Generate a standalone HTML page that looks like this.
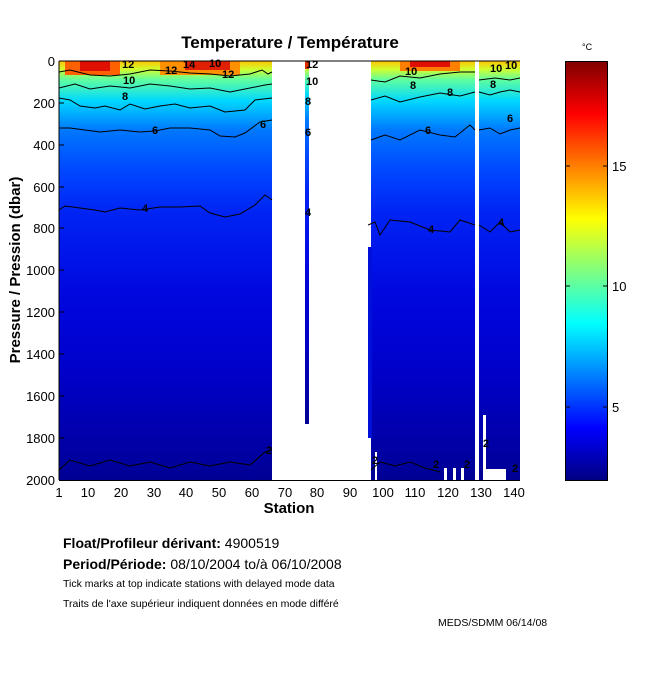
<!DOCTYPE html>
<html><head><style>
body{margin:0;background:#fff;width:650px;height:680px;overflow:hidden}
svg text{font-family:"Liberation Sans",sans-serif}
</style></head><body>
<svg width="650" height="680" viewBox="0 0 650 680">
<defs>
<linearGradient id="prof" x1="0" y1="0" x2="0" y2="1">
<stop offset="0" stop-color="#ffc000"/>
<stop offset="0.02" stop-color="#d0ff30"/>
<stop offset="0.045" stop-color="#60ffa0"/>
<stop offset="0.095" stop-color="#00d8ff"/>
<stop offset="0.165" stop-color="#0078ff"/>
<stop offset="0.26" stop-color="#0048ff"/>
<stop offset="0.36" stop-color="#0024f4"/>
<stop offset="0.55" stop-color="#0008e0"/>
<stop offset="0.75" stop-color="#0000c8"/>
<stop offset="0.93" stop-color="#0000a4"/>
<stop offset="1" stop-color="#000094"/>
</linearGradient>
<linearGradient id="jet" x1="0" y1="1" x2="0" y2="0">
<stop offset="0" stop-color="#000080"/>
<stop offset="0.125" stop-color="#0000ff"/>
<stop offset="0.375" stop-color="#00ffff"/>
<stop offset="0.625" stop-color="#ffff00"/>
<stop offset="0.875" stop-color="#ff0000"/>
<stop offset="1" stop-color="#800000"/>
</linearGradient>
</defs>
<text x="290" y="48" font-size="17" font-weight="bold" text-anchor="middle">Temperature / Température</text>
<rect x="59" y="61" width="213" height="419" fill="url(#prof)"/>
<rect x="305" y="61" width="4" height="363" fill="url(#prof)"/>
<rect x="371" y="61" width="104" height="419" fill="url(#prof)"/>
<rect x="368" y="247" width="4" height="191" fill="#0010d8"/>
<rect x="479" y="61" width="41" height="419" fill="url(#prof)"/>
<rect x="65" y="61" width="55" height="14" fill="#ff6000"/>
<rect x="80" y="61" width="30" height="10" fill="#e01000"/>
<rect x="160" y="61" width="80" height="14" fill="#ff9000"/>
<rect x="185" y="61" width="45" height="9" fill="#e02000"/>
<rect x="400" y="61" width="60" height="10" fill="#ff8000"/>
<rect x="410" y="61" width="40" height="6" fill="#e01000"/>
<rect x="305" y="61" width="4" height="8" fill="#e03000"/>
<rect x="475" y="61" width="4" height="419" fill="#fff"/>
<rect x="483" y="415" width="3" height="65" fill="#fff"/>
<rect x="483" y="469" width="23" height="11" fill="#fff"/>
<rect x="444" y="468" width="3" height="12" fill="#fff"/>
<rect x="453" y="468" width="3" height="12" fill="#fff"/>
<rect x="461" y="468" width="3" height="12" fill="#fff"/>
<rect x="375" y="452" width="2" height="28" fill="#fff"/>
<g fill="none" stroke="#000" stroke-width="1">
<polyline points="59,72 70,70 90,75 110,76 130,74 150,70 170,71 190,73 210,74 230,76 250,74 262,70 268,74 272,72"/>
<polyline points="59,88 75,84 90,89 110,86 130,88 150,84 170,86 190,89 210,88 230,92 250,88 265,85 272,84"/>
<polyline points="59,98 70,100 80,106 95,108 105,106 120,110 130,104 145,109 160,106 175,104 190,108 210,106 225,112 245,110 255,100 272,98"/>
<polyline points="59,128 70,128 85,130 100,132 120,130 140,132 155,131 170,128 190,128 210,130 220,136 235,137 245,133 260,122 272,120"/>
<polyline points="59,210 65,206 80,208 95,210 105,212 120,208 140,210 160,207 180,207 200,206 210,213 225,217 240,214 255,205 265,195 272,200"/>
<polyline points="59,470 70,460 90,466 110,460 130,466 150,462 170,468 190,462 210,466 230,462 250,465 265,452 272,450"/>
<polyline points="371,80 385,82 400,76 420,78 440,74 460,72 475,72"/>
<polyline points="371,100 385,96 400,102 420,97 440,93 460,96 475,92"/>
<polyline points="371,140 385,135 400,140 420,130 440,135 455,137 470,125 475,130"/>
<polyline points="368,225 375,222 380,235 390,220 410,222 430,230 450,232 460,220 475,225"/>
<polyline points="371,470 380,462 395,466 410,462 425,468 440,472"/>
<polyline points="479,80 495,78 510,80 520,78"/>
<polyline points="479,92 490,95 500,92 510,90 520,92"/>
<polyline points="479,130 490,128 500,134 510,130 520,128"/>
<polyline points="479,225 490,232 500,222 510,232 520,230"/>
</g>
<g font-size="11" font-weight="bold" fill="#000">
<text x="122" y="68">12</text><text x="123" y="84">10</text><text x="122" y="100">8</text><text x="152" y="134">6</text><text x="142" y="212">4</text>
<text x="165" y="74">12</text><text x="183" y="68">14</text><text x="209" y="67">10</text><text x="222" y="78">12</text><text x="260" y="128">6</text>
<text x="306" y="68">12</text><text x="306" y="85">10</text><text x="305" y="105">8</text><text x="305" y="136">6</text><text x="305" y="216">4</text>
<text x="405" y="75">10</text><text x="410" y="89">8</text><text x="447" y="96">8</text><text x="425" y="134">6</text><text x="428" y="233">4</text>
<text x="490" y="72">10</text><text x="505" y="69">10</text><text x="490" y="88">8</text><text x="507" y="122">6</text><text x="498" y="226">4</text>
<text x="266" y="454">2</text><text x="372" y="464">2</text><text x="433" y="468">2</text><text x="464" y="468">2</text><text x="483" y="447">2</text><text x="512" y="472">2</text>
</g>
<g stroke="#000" stroke-width="1" fill="none">
<line x1="59" y1="61" x2="520" y2="61"/>
<line x1="59" y1="61" x2="59" y2="480"/>
<line x1="59" y1="480.5" x2="520" y2="480.5"/>
</g>
<g stroke="#000">
<line x1="59" y1="103" x2="64" y2="103"/><line x1="59" y1="145" x2="64" y2="145"/><line x1="59" y1="187" x2="64" y2="187"/><line x1="59" y1="228" x2="64" y2="228"/><line x1="59" y1="270" x2="64" y2="270"/><line x1="59" y1="312" x2="64" y2="312"/><line x1="59" y1="354" x2="64" y2="354"/><line x1="59" y1="396" x2="64" y2="396"/><line x1="59" y1="438" x2="64" y2="438"/>
</g>
<g font-size="13" text-anchor="end">
<text x="55" y="66">0</text><text x="55" y="108">200</text><text x="55" y="150">400</text><text x="55" y="192">600</text><text x="55" y="233">800</text><text x="55" y="275">1000</text><text x="55" y="317">1200</text><text x="55" y="359">1400</text><text x="55" y="401">1600</text><text x="55" y="443">1800</text><text x="55" y="485">2000</text>
</g>
<g font-size="13" text-anchor="middle">
<text x="59" y="497">1</text><text x="88" y="497">10</text><text x="121" y="497">20</text><text x="154" y="497">30</text><text x="186" y="497">40</text><text x="219" y="497">50</text><text x="252" y="497">60</text><text x="285" y="497">70</text><text x="317" y="497">80</text><text x="350" y="497">90</text><text x="383" y="497">100</text><text x="415" y="497">110</text><text x="448" y="497">120</text><text x="481" y="497">130</text><text x="514" y="497">140</text>
</g>
<text x="289" y="513" font-size="15" font-weight="bold" text-anchor="middle">Station</text>
<text transform="translate(20,270) rotate(-90)" font-size="15" font-weight="bold" text-anchor="middle">Pressure / Pression (dbar)</text>
<rect x="565.5" y="61.5" width="42" height="419" fill="url(#jet)" stroke="#000"/>
<g stroke="#000"><line x1="565" y1="407" x2="570" y2="407"/><line x1="603" y1="407" x2="608" y2="407"/><line x1="565" y1="286" x2="570" y2="286"/><line x1="603" y1="286" x2="608" y2="286"/><line x1="565" y1="166" x2="570" y2="166"/><line x1="603" y1="166" x2="608" y2="166"/></g>
<g font-size="13"><text x="612" y="412">5</text><text x="612" y="291">10</text><text x="612" y="171">15</text></g>
<text x="582" y="50" font-size="9">°C</text>
<text x="63" y="548" font-size="14"><tspan font-weight="bold">Float/Profileur dérivant:</tspan> 4900519</text>
<text x="63" y="569" font-size="14"><tspan font-weight="bold">Period/Période:</tspan> 08/10/2004  to/à  06/10/2008</text>
<text x="63" y="587" font-size="10.5">Tick marks at top indicate stations with delayed mode data</text>
<text x="63" y="607" font-size="10.5">Traits de l'axe supérieur indiquent données en mode différé</text>
<text x="438" y="626" font-size="10.5">MEDS/SDMM  06/14/08</text>
</svg>
</body></html>
